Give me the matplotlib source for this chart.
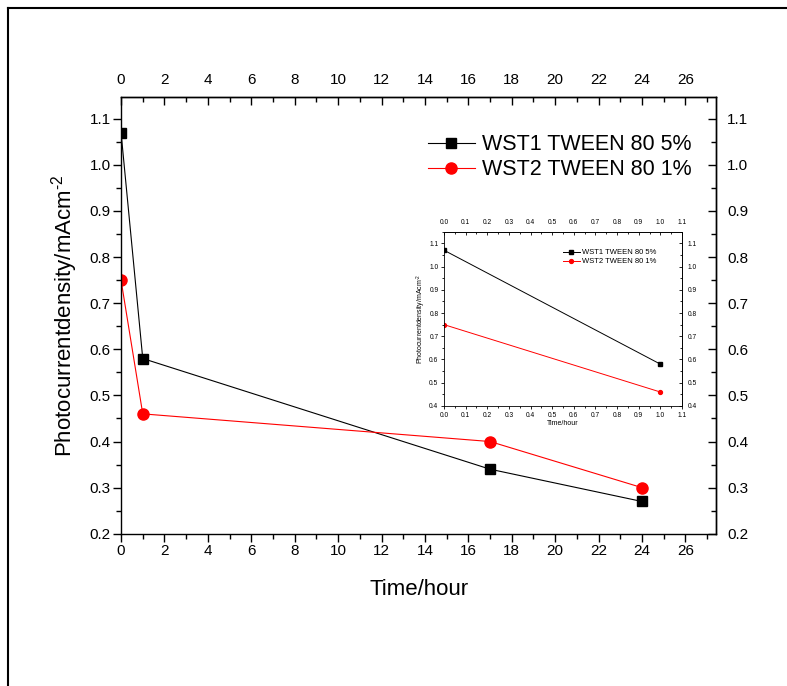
import numpy as np
import matplotlib
matplotlib.use("Agg")
from matplotlib import pyplot as plt
from matplotlib.lines import Line2D
from matplotlib.ticker import MultipleLocator

plt.rcParams['font.family'] = ['Liberation Sans', 'DejaVu Sans']
plt.rcParams['mathtext.fontset'] = 'custom'
plt.rcParams['mathtext.rm'] = 'Liberation Sans'
plt.rcParams['mathtext.it'] = 'Liberation Sans:italic'

# data
time_h = [0, 1, 17, 24]
wst1 = [1.07, 0.58, 0.34, 0.27]
wst2 = [0.75, 0.46, 0.40, 0.30]

inset_time = [0, 1]
inset_wst1 = [1.07, 0.58]
inset_wst2 = [0.75, 0.46]

label1 = "WST1 TWEEN 80 5%"
label2 = "WST2 TWEEN 80 1%"
ylab = "Photocurrentdensity/mAcm$^{\\text{-2}}$"
xlab = "Time/hour"


def style_axes(ax, xmaj, xmin, ymaj, ymin, fs, L, lw):
    ax.xaxis.set_major_locator(MultipleLocator(xmaj))
    ax.xaxis.set_minor_locator(MultipleLocator(xmin))
    ax.yaxis.set_major_locator(MultipleLocator(ymaj))
    ax.yaxis.set_minor_locator(MultipleLocator(ymin))
    ax.tick_params(which='major', direction='out', length=L, width=lw, labelsize=fs, pad=2)
    ax.tick_params(which='minor', direction='out', length=L * 0.6, width=lw)
    for s in ax.spines.values():
        s.set_linewidth(lw)
    # top and right axes carry their own labels, ticks pointing inward
    top = ax.secondary_xaxis('top')
    top.xaxis.set_major_locator(MultipleLocator(xmaj))
    top.xaxis.set_minor_locator(MultipleLocator(xmin))
    top.tick_params(which='major', direction='in', length=L, width=lw, labelsize=fs, pad=L + 2)
    top.tick_params(which='minor', direction='in', length=L * 0.6, width=lw)
    top.spines['top'].set_linewidth(lw)
    top.xaxis.label.set_visible(False)
    right = ax.secondary_yaxis('right')
    right.yaxis.set_major_locator(MultipleLocator(ymaj))
    right.yaxis.set_minor_locator(MultipleLocator(ymin))
    right.tick_params(which='major', direction='in', length=L, width=lw, labelsize=fs, pad=L + 2)
    right.tick_params(which='minor', direction='in', length=L * 0.6, width=lw)
    right.spines['right'].set_linewidth(lw)
    right.yaxis.label.set_visible(False)
    return top, right


fig = plt.figure(figsize=(7.87, 6.86), dpi=100)

# outer frame lines
fig.add_artist(Line2D([8 / 787, 8 / 787], [0, 1 - 8 / 686], transform=fig.transFigure,
                      color='black', lw=1.5))
fig.add_artist(Line2D([8 / 787, 1], [1 - 8 / 686, 1 - 8 / 686], transform=fig.transFigure,
                      color='black', lw=1.5))

ax = fig.add_axes([0.1538, 0.2219, 0.7566, 0.6367])
ax.plot(time_h, wst1, color='black', lw=0.8, marker='s', ms=7, label=label1)
ax.plot(time_h, wst2, color='red', lw=0.8, marker='o', ms=8, label=label2)
ax.set_xlim(0, 27.43)
ax.set_ylim(0.2, 1.147)
style_axes(ax, 2, 1, 0.1, 0.05, 11, 5.5, 1.0)
ax.set_xlabel(xlab, fontsize=16, labelpad=15)
ax.set_ylabel(ylab, fontsize=16, labelpad=7)
ax.legend(loc='upper left', bbox_to_anchor=(0.515, 0.915), frameon=False, fontsize=15.5,
          handlelength=2.2, handletextpad=0.3, labelspacing=0.2, borderaxespad=0,
          borderpad=0)

# inset
ins = fig.add_axes([0.5642, 0.4082, 0.3024, 0.2541])
ins.plot(inset_time, inset_wst1, color='black', lw=0.7, marker='s', ms=2.5, label=label1)
ins.plot(inset_time, inset_wst2, color='red', lw=0.7, marker='o', ms=2.8, label=label2)
ins.set_xlim(0, 1.1)
ins.set_ylim(0.4, 1.15)
style_axes(ins, 0.1, 0.05, 0.1, 0.05, 4.8, 2, 0.6)
ins.set_xlabel(xlab, fontsize=5, labelpad=1)
ins.set_ylabel(ylab, fontsize=5, labelpad=1)
ins.legend(loc='upper left', bbox_to_anchor=(0.50, 0.90), frameon=False, fontsize=5.5,
           handlelength=2.2, handletextpad=0.3, labelspacing=0.2, borderaxespad=0,
           borderpad=0)

fig.savefig('out.png', dpi=100)
